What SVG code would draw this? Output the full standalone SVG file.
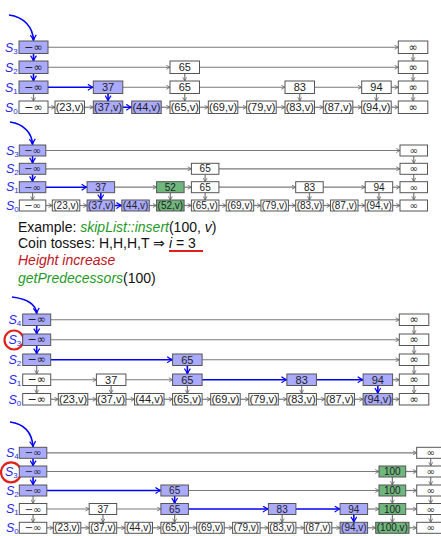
<svg xmlns="http://www.w3.org/2000/svg" width="441" height="536" viewBox="0 0 441 536">
<style>
.b{fill:#fff;stroke:#555;stroke-width:1}
.bb{fill:#aaaaff;stroke:#555;stroke-width:1}
.bg{fill:#70b77e;stroke:#555;stroke-width:1}
.t{font-family:"Liberation Sans",Arial,sans-serif;font-size:11px;text-anchor:middle;dominant-baseline:central;fill:#222}
.t2{font-family:"Liberation Sans",Arial,sans-serif;font-size:10px;text-anchor:middle;dominant-baseline:central;fill:#222}
.i{font-family:"DejaVu Sans",sans-serif}
.g{stroke:#7a7a7a;stroke-width:1.2;fill:none;marker-end:url(#ga)}
.bl{stroke:#0000ff;stroke-width:1.6;fill:none;marker-end:url(#ba)}
.lbl{font-family:"Liberation Sans",Arial,sans-serif;font-size:12.5px;font-style:italic;fill:#2a2ae6}
.sub{font-size:8px;font-style:normal}
.tx{font-family:"Liberation Sans",Arial,sans-serif;font-size:14px;fill:#111}
.gi{fill:#1f9a1f;font-style:italic}
.ri{fill:#c0141c;font-style:italic}
.circ{fill:none;stroke:#e0201a;stroke-width:2.2}
</style>
<defs>
<marker id="ga" viewBox="0 0 6 6" refX="5.5" refY="3" markerWidth="5" markerHeight="5" orient="auto" markerUnits="userSpaceOnUse"><path d="M1,0.6 L5.5,3 L1,5.4" fill="none" stroke="#6a6a6a" stroke-width="1"/></marker>
<marker id="ba" viewBox="0 0 8 8" refX="7.2" refY="4" markerWidth="7" markerHeight="7" orient="auto" markerUnits="userSpaceOnUse"><path d="M1,0.6 Q4.5,3.2 7.2,4 Q4.5,4.8 1,7.4" fill="none" stroke="#0000ff" stroke-width="1.4"/></marker>
</defs>

<!-- ================= Panel 1 ================= -->
<g id="p1-labels">
<text class="lbl" x="5" y="51.5">S<tspan class="sub" dy="2">3</tspan></text>
<text class="lbl" x="5" y="71.5">S<tspan class="sub" dy="2">2</tspan></text>
<text class="lbl" x="5" y="91.5">S<tspan class="sub" dy="2">1</tspan></text>
<text class="lbl" x="5" y="111.5">S<tspan class="sub" dy="2">0</tspan></text>
</g>
<g id="p1-connectors">
<path class="bl" d="M9,15 C24,17 33,27 33.5,40.5"/>
<path class="g" d="M48,47.25 H398.3"/>
<path class="g" d="M48,67.25 H170"/>
<path class="g" d="M199.5,67.25 H398.3"/>
<path class="bl" d="M48,87.25 H93.3"/>
<path class="g" d="M122.8,87.25 H170"/>
<path class="g" d="M199.5,87.25 H285"/>
<path class="g" d="M314.5,87.25 H361.7"/>
<path class="g" d="M391.2,87.25 H398.3"/>
<path class="g" d="M48,107.25 H55"/>
<path class="g" d="M84.5,107.25 H93.3"/>
<path class="bl" d="M122.8,107.25 H131.7"/>
<path class="g" d="M161.2,107.25 H170"/>
<path class="g" d="M199.5,107.25 H208.3"/>
<path class="g" d="M237.8,107.25 H246.7"/>
<path class="g" d="M276.2,107.25 H285"/>
<path class="g" d="M314.5,107.25 H323.3"/>
<path class="g" d="M352.8,107.25 H361.7"/>
<path class="g" d="M391.2,107.25 H398.3"/>
<path class="bl" d="M33.5,53.5 V61"/>
<path class="bl" d="M33.5,73.5 V81"/>
<path class="bl" d="M108.05,93.5 V101"/>
<path class="g" d="M33.5,93.5 V101"/>
<path class="g" d="M184.75,73.5 V81"/>
<path class="g" d="M184.75,93.5 V101"/>
<path class="g" d="M299.75,93.5 V101"/>
<path class="g" d="M376.45,93.5 V101"/>
<path class="g" d="M413.05,53.5 V61"/>
<path class="g" d="M413.05,73.5 V81"/>
<path class="g" d="M413.05,93.5 V101"/>
</g>
<g id="p1-s3-ninf"><rect class="bb" x="19" y="41" width="29" height="12.5"/><text class="t i" x="33.5" y="47.25">−∞</text></g>
<g id="p1-s3-inf"><rect class="b" x="398.3" y="41" width="29.5" height="12.5"/><text class="t i" x="413.05" y="47.25">∞</text></g>
<g id="p1-s2-ninf"><rect class="bb" x="19" y="61" width="29" height="12.5"/><text class="t i" x="33.5" y="67.25">−∞</text></g>
<g id="p1-s2-65"><rect class="b" x="170" y="61" width="29.5" height="12.5"/><text class="t" x="184.75" y="67.25">65</text></g>
<g id="p1-s2-inf"><rect class="b" x="398.3" y="61" width="29.5" height="12.5"/><text class="t i" x="413.05" y="67.25">∞</text></g>
<g id="p1-s1-ninf"><rect class="bb" x="19" y="81" width="29" height="12.5"/><text class="t i" x="33.5" y="87.25">−∞</text></g>
<g id="p1-s1-37"><rect class="bb" x="93.3" y="81" width="29.5" height="12.5"/><text class="t" x="108.05" y="87.25">37</text></g>
<g id="p1-s1-65"><rect class="b" x="170" y="81" width="29.5" height="12.5"/><text class="t" x="184.75" y="87.25">65</text></g>
<g id="p1-s1-83"><rect class="b" x="285" y="81" width="29.5" height="12.5"/><text class="t" x="299.75" y="87.25">83</text></g>
<g id="p1-s1-94"><rect class="b" x="361.7" y="81" width="29.5" height="12.5"/><text class="t" x="376.45" y="87.25">94</text></g>
<g id="p1-s1-inf"><rect class="b" x="398.3" y="81" width="29.5" height="12.5"/><text class="t i" x="413.05" y="87.25">∞</text></g>
<g id="p1-s0-ninf"><rect class="b" x="19" y="101" width="29" height="12.5"/><text class="t i" x="33.5" y="107.25">−∞</text></g>
<g id="p1-s0-23"><rect class="b" x="55" y="101" width="29.5" height="12.5"/><text class="t" x="69.75" y="107.25">(23,v)</text></g>
<g id="p1-s0-37"><rect class="bb" x="93.3" y="101" width="29.5" height="12.5"/><text class="t" x="108.05" y="107.25">(37,v)</text></g>
<g id="p1-s0-44"><rect class="bb" x="131.7" y="101" width="29.5" height="12.5"/><text class="t" x="146.45" y="107.25">(44,v)</text></g>
<g id="p1-s0-65"><rect class="b" x="170" y="101" width="29.5" height="12.5"/><text class="t" x="184.75" y="107.25">(65,v)</text></g>
<g id="p1-s0-69"><rect class="b" x="208.3" y="101" width="29.5" height="12.5"/><text class="t" x="223.05" y="107.25">(69,v)</text></g>
<g id="p1-s0-79"><rect class="b" x="246.7" y="101" width="29.5" height="12.5"/><text class="t" x="261.45" y="107.25">(79,v)</text></g>
<g id="p1-s0-83"><rect class="b" x="285" y="101" width="29.5" height="12.5"/><text class="t" x="299.75" y="107.25">(83,v)</text></g>
<g id="p1-s0-87"><rect class="b" x="323.3" y="101" width="29.5" height="12.5"/><text class="t" x="338.05" y="107.25">(87,v)</text></g>
<g id="p1-s0-94"><rect class="b" x="361.7" y="101" width="29.5" height="12.5"/><text class="t" x="376.45" y="107.25">(94,v)</text></g>
<g id="p1-s0-inf"><rect class="b" x="398.3" y="101" width="29.5" height="12.5"/><text class="t i" x="413.05" y="107.25">∞</text></g>

<!-- ================= Panel 2 ================= -->
<g id="p2-labels">
<text class="lbl" x="6" y="154.5">S<tspan class="sub" dy="2">3</tspan></text>
<text class="lbl" x="6" y="172.8">S<tspan class="sub" dy="2">2</tspan></text>
<text class="lbl" x="6" y="191.2">S<tspan class="sub" dy="2">1</tspan></text>
<text class="lbl" x="6" y="209.5">S<tspan class="sub" dy="2">0</tspan></text>
</g>
<g id="p2-connectors">
<path class="bl" d="M10,122 C24,124 32,133 32.55,144.5"/>
<path class="g" d="M45.8,150.5 H400"/>
<path class="g" d="M45.8,168.8 H191.4"/>
<path class="g" d="M218.9,168.8 H400"/>
<path class="bl" d="M45.8,187.2 H87.1"/>
<path class="g" d="M114.6,187.2 H156.6"/>
<path class="g" d="M184.1,187.2 H191.4"/>
<path class="g" d="M218.9,187.2 H295.7"/>
<path class="g" d="M323.2,187.2 H365.2"/>
<path class="g" d="M392.7,187.2 H400"/>
<path class="g" d="M45.8,205.5 H52.3"/>
<path class="g" d="M79.8,205.5 H87.1"/>
<path class="bl" d="M114.6,205.5 H121.8"/>
<path class="g" d="M149.3,205.5 H156.6"/>
<path class="g" d="M184.1,205.5 H191.4"/>
<path class="g" d="M218.9,205.5 H226.2"/>
<path class="g" d="M253.7,205.5 H260.9"/>
<path class="g" d="M288.4,205.5 H295.7"/>
<path class="g" d="M323.2,205.5 H330.5"/>
<path class="g" d="M358,205.5 H365.2"/>
<path class="g" d="M392.7,205.5 H400"/>
<path class="bl" d="M32.55,156 V163.3"/>
<path class="bl" d="M32.55,174.3 V181.7"/>
<path class="bl" d="M100.85,192.7 V200"/>
<path class="g" d="M32.55,192.7 V200"/>
<path class="g" d="M170.35,192.7 V200"/>
<path class="g" d="M205.15,174.3 V181.7"/>
<path class="g" d="M205.15,192.7 V200"/>
<path class="g" d="M309.45,192.7 V200"/>
<path class="g" d="M378.95,192.7 V200"/>
<path class="g" d="M413.75,156 V163.3"/>
<path class="g" d="M413.75,174.3 V181.7"/>
<path class="g" d="M413.75,192.7 V200"/>
</g>
<g id="p2-s3-ninf"><rect class="bb" x="19.3" y="145" width="26.5" height="11"/><text class="t2 i" x="32.55" y="150.5">−∞</text></g>
<g id="p2-s3-inf"><rect class="b" x="400" y="145" width="27.5" height="11"/><text class="t2 i" x="413.75" y="150.5">∞</text></g>
<g id="p2-s2-ninf"><rect class="bb" x="19.3" y="163.3" width="26.5" height="11"/><text class="t2 i" x="32.55" y="168.8">−∞</text></g>
<g id="p2-s2-65"><rect class="b" x="191.4" y="163.3" width="27.5" height="11"/><text class="t2" x="205.15" y="168.8">65</text></g>
<g id="p2-s2-inf"><rect class="b" x="400" y="163.3" width="27.5" height="11"/><text class="t2 i" x="413.75" y="168.8">∞</text></g>
<g id="p2-s1-ninf"><rect class="bb" x="19.3" y="181.7" width="26.5" height="11"/><text class="t2 i" x="32.55" y="187.2">−∞</text></g>
<g id="p2-s1-37"><rect class="bb" x="87.1" y="181.7" width="27.5" height="11"/><text class="t2" x="100.85" y="187.2">37</text></g>
<g id="p2-s1-52"><rect class="bg" x="156.6" y="181.7" width="27.5" height="11"/><text class="t2" x="170.35" y="187.2">52</text></g>
<g id="p2-s1-65"><rect class="b" x="191.4" y="181.7" width="27.5" height="11"/><text class="t2" x="205.15" y="187.2">65</text></g>
<g id="p2-s1-83"><rect class="b" x="295.7" y="181.7" width="27.5" height="11"/><text class="t2" x="309.45" y="187.2">83</text></g>
<g id="p2-s1-94"><rect class="b" x="365.2" y="181.7" width="27.5" height="11"/><text class="t2" x="378.95" y="187.2">94</text></g>
<g id="p2-s1-inf"><rect class="b" x="400" y="181.7" width="27.5" height="11"/><text class="t2 i" x="413.75" y="187.2">∞</text></g>
<g id="p2-s0-ninf"><rect class="b" x="19.3" y="200" width="26.5" height="11"/><text class="t2 i" x="32.55" y="205.5">−∞</text></g>
<g id="p2-s0-23"><rect class="b" x="52.3" y="200" width="27.5" height="11"/><text class="t2" x="66.05" y="205.5">(23,v)</text></g>
<g id="p2-s0-37"><rect class="bb" x="87.1" y="200" width="27.5" height="11"/><text class="t2" x="100.85" y="205.5">(37,v)</text></g>
<g id="p2-s0-44"><rect class="bb" x="121.8" y="200" width="27.5" height="11"/><text class="t2" x="135.55" y="205.5">(44,v)</text></g>
<g id="p2-s0-52"><rect class="bg" x="156.6" y="200" width="27.5" height="11"/><text class="t2" x="170.35" y="205.5">(52,v)</text></g>
<g id="p2-s0-65"><rect class="b" x="191.4" y="200" width="27.5" height="11"/><text class="t2" x="205.15" y="205.5">(65,v)</text></g>
<g id="p2-s0-69"><rect class="b" x="226.2" y="200" width="27.5" height="11"/><text class="t2" x="239.95" y="205.5">(69,v)</text></g>
<g id="p2-s0-79"><rect class="b" x="260.9" y="200" width="27.5" height="11"/><text class="t2" x="274.65" y="205.5">(79,v)</text></g>
<g id="p2-s0-83"><rect class="b" x="295.7" y="200" width="27.5" height="11"/><text class="t2" x="309.45" y="205.5">(83,v)</text></g>
<g id="p2-s0-87"><rect class="b" x="330.5" y="200" width="27.5" height="11"/><text class="t2" x="344.25" y="205.5">(87,v)</text></g>
<g id="p2-s0-94"><rect class="b" x="365.2" y="200" width="27.5" height="11"/><text class="t2" x="378.95" y="205.5">(94,v)</text></g>
<g id="p2-s0-inf"><rect class="b" x="400" y="200" width="27.5" height="11"/><text class="t2 i" x="413.75" y="205.5">∞</text></g>

<!-- ================= Text ================= -->
<g id="caption">
<text class="tx" x="18" y="231.5">Example: <tspan class="gi">skipList::insert</tspan>(100, <tspan font-style="italic">v</tspan>)</text>
<text class="tx" x="18" y="247.5">Coin tosses: H,H,H,T ⇒ <tspan font-style="italic">i</tspan> = 3</text>
<line x1="169" y1="251" x2="203" y2="251" stroke="#e0201a" stroke-width="2"/>
<text class="tx ri" x="18" y="265">Height increase</text>
<text class="tx" x="18" y="283"><tspan class="gi">getPredecessors</tspan>(100)</text>
</g>

<!-- ================= Panel 3 ================= -->
<g id="p3-labels">
<text class="lbl" x="8.5" y="324">S<tspan class="sub" dy="2">4</tspan></text>
<text class="lbl" x="8.5" y="344">S<tspan class="sub" dy="2">3</tspan></text>
<text class="lbl" x="8.5" y="364">S<tspan class="sub" dy="2">2</tspan></text>
<text class="lbl" x="8.5" y="384">S<tspan class="sub" dy="2">1</tspan></text>
<text class="lbl" x="8.5" y="403.5">S<tspan class="sub" dy="2">0</tspan></text>
<circle class="circ" cx="14" cy="340" r="9.5"/>
</g>
<g id="p3-connectors">
<path class="bl" d="M12,297 C28,299 36,305 36.7,313.5"/>
<path class="g" d="M50.7,319.75 H399.3"/>
<path class="g" d="M50.7,339.75 H399.3"/>
<path class="bl" d="M50.7,359.75 H172.6"/>
<path class="g" d="M202.1,359.75 H399.3"/>
<path class="g" d="M50.7,379.75 H96.4"/>
<path class="g" d="M125.9,379.75 H172.6"/>
<path class="bl" d="M202.1,379.75 H286.9"/>
<path class="bl" d="M316.4,379.75 H363.1"/>
<path class="g" d="M392.6,379.75 H399.3"/>
<path class="g" d="M50.7,399.25 H58.3"/>
<path class="g" d="M87.8,399.25 H96.4"/>
<path class="g" d="M125.9,399.25 H134.5"/>
<path class="g" d="M164,399.25 H172.6"/>
<path class="g" d="M202.1,399.25 H210.7"/>
<path class="g" d="M240.2,399.25 H248.8"/>
<path class="g" d="M278.3,399.25 H286.9"/>
<path class="g" d="M316.4,399.25 H325"/>
<path class="g" d="M354.5,399.25 H363.1"/>
<path class="g" d="M392.6,399.25 H399.3"/>
<path class="bl" d="M36.7,325.5 V334"/>
<path class="bl" d="M36.7,345.5 V354"/>
<path class="bl" d="M187.35,365.5 V374"/>
<path class="bl" d="M377.85,385.5 V393.5"/>
<path class="g" d="M36.7,365.5 V374"/>
<path class="g" d="M36.7,385.5 V393.5"/>
<path class="g" d="M111.15,385.5 V393.5"/>
<path class="g" d="M187.35,385.5 V393.5"/>
<path class="g" d="M301.65,385.5 V393.5"/>
<path class="g" d="M414.05,325.5 V334"/>
<path class="g" d="M414.05,345.5 V354"/>
<path class="g" d="M414.05,365.5 V374"/>
<path class="g" d="M414.05,385.5 V393.5"/>
</g>
<g id="p3-s4-ninf"><rect class="bb" x="22.7" y="314" width="28" height="11.5"/><text class="t i" x="36.7" y="319.75">−∞</text></g>
<g id="p3-s4-inf"><rect class="b" x="399.3" y="314" width="29.5" height="11.5"/><text class="t i" x="414.05" y="319.75">∞</text></g>
<g id="p3-s3-ninf"><rect class="bb" x="22.7" y="334" width="28" height="11.5"/><text class="t i" x="36.7" y="339.75">−∞</text></g>
<g id="p3-s3-inf"><rect class="b" x="399.3" y="334" width="29.5" height="11.5"/><text class="t i" x="414.05" y="339.75">∞</text></g>
<g id="p3-s2-ninf"><rect class="bb" x="22.7" y="354" width="28" height="11.5"/><text class="t i" x="36.7" y="359.75">−∞</text></g>
<g id="p3-s2-65"><rect class="bb" x="172.6" y="354" width="29.5" height="11.5"/><text class="t" x="187.35" y="359.75">65</text></g>
<g id="p3-s2-inf"><rect class="b" x="399.3" y="354" width="29.5" height="11.5"/><text class="t i" x="414.05" y="359.75">∞</text></g>
<g id="p3-s1-ninf"><rect class="b" x="22.7" y="374" width="28" height="11.5"/><text class="t i" x="36.7" y="379.75">−∞</text></g>
<g id="p3-s1-37"><rect class="b" x="96.4" y="374" width="29.5" height="11.5"/><text class="t" x="111.15" y="379.75">37</text></g>
<g id="p3-s1-65"><rect class="bb" x="172.6" y="374" width="29.5" height="11.5"/><text class="t" x="187.35" y="379.75">65</text></g>
<g id="p3-s1-83"><rect class="bb" x="286.9" y="374" width="29.5" height="11.5"/><text class="t" x="301.65" y="379.75">83</text></g>
<g id="p3-s1-94"><rect class="bb" x="363.1" y="374" width="29.5" height="11.5"/><text class="t" x="377.85" y="379.75">94</text></g>
<g id="p3-s1-inf"><rect class="b" x="399.3" y="374" width="29.5" height="11.5"/><text class="t i" x="414.05" y="379.75">∞</text></g>
<g id="p3-s0-ninf"><rect class="b" x="22.7" y="393.5" width="28" height="11.5"/><text class="t i" x="36.7" y="399.25">−∞</text></g>
<g id="p3-s0-23"><rect class="b" x="58.3" y="393.5" width="29.5" height="11.5"/><text class="t" x="73.05" y="399.25">(23,v)</text></g>
<g id="p3-s0-37"><rect class="b" x="96.4" y="393.5" width="29.5" height="11.5"/><text class="t" x="111.15" y="399.25">(37,v)</text></g>
<g id="p3-s0-44"><rect class="b" x="134.5" y="393.5" width="29.5" height="11.5"/><text class="t" x="149.25" y="399.25">(44,v)</text></g>
<g id="p3-s0-65"><rect class="b" x="172.6" y="393.5" width="29.5" height="11.5"/><text class="t" x="187.35" y="399.25">(65,v)</text></g>
<g id="p3-s0-69"><rect class="b" x="210.7" y="393.5" width="29.5" height="11.5"/><text class="t" x="225.45" y="399.25">(69,v)</text></g>
<g id="p3-s0-79"><rect class="b" x="248.8" y="393.5" width="29.5" height="11.5"/><text class="t" x="263.55" y="399.25">(79,v)</text></g>
<g id="p3-s0-83"><rect class="b" x="286.9" y="393.5" width="29.5" height="11.5"/><text class="t" x="301.65" y="399.25">(83,v)</text></g>
<g id="p3-s0-87"><rect class="b" x="325" y="393.5" width="29.5" height="11.5"/><text class="t" x="339.75" y="399.25">(87,v)</text></g>
<g id="p3-s0-94"><rect class="bb" x="363.1" y="393.5" width="29.5" height="11.5"/><text class="t" x="377.85" y="399.25">(94,v)</text></g>
<g id="p3-s0-inf"><rect class="b" x="399.3" y="393.5" width="29.5" height="11.5"/><text class="t i" x="414.05" y="399.25">∞</text></g>

<!-- ================= Panel 4 ================= -->
<g id="p4-labels">
<text class="lbl" x="6" y="457">S<tspan class="sub" dy="2">4</tspan></text>
<text class="lbl" x="5" y="475.8">S<tspan class="sub" dy="2">3</tspan></text>
<text class="lbl" x="6" y="494.8">S<tspan class="sub" dy="2">2</tspan></text>
<text class="lbl" x="6" y="513.3">S<tspan class="sub" dy="2">1</tspan></text>
<text class="lbl" x="6" y="531.5">S<tspan class="sub" dy="2">0</tspan></text>
<circle class="circ" cx="11" cy="472.3" r="10"/>
</g>
<g id="p4-connectors">
<path class="bl" d="M10,422 C25,424 32,433 33.05,446.8"/>
<path class="g" d="M46.8,452.8 H416.7"/>
<path class="g" d="M46.8,471.5 H379"/>
<path class="g" d="M405.7,471.5 H416.7"/>
<path class="bl" d="M46.8,490.5 H160.9"/>
<path class="g" d="M188.4,490.5 H379"/>
<path class="g" d="M405.7,490.5 H416.7"/>
<path class="g" d="M46.8,509 H89.2"/>
<path class="g" d="M116.7,509 H160.9"/>
<path class="bl" d="M188.4,509 H268.4"/>
<path class="bl" d="M295.9,509 H340.1"/>
<path class="g" d="M367.6,509 H379"/>
<path class="g" d="M405.7,509 H416.7"/>
<path class="g" d="M46.8,527.8 H53.3"/>
<path class="g" d="M80.8,527.8 H89.2"/>
<path class="g" d="M116.7,527.8 H125"/>
<path class="g" d="M152.5,527.8 H160.9"/>
<path class="g" d="M188.4,527.8 H196.7"/>
<path class="g" d="M224.2,527.8 H232.6"/>
<path class="g" d="M260.1,527.8 H268.4"/>
<path class="g" d="M295.9,527.8 H304.3"/>
<path class="g" d="M331.8,527.8 H340.1"/>
<path class="g" d="M367.6,527.8 H375.7"/>
<path class="g" d="M409,527.8 H416.7"/>
<path class="bl" d="M33.05,458.3 V466"/>
<path class="bl" d="M33.05,477 V485"/>
<path class="bl" d="M174.65,496 V503.5"/>
<path class="bl" d="M353.85,514.5 V522.3"/>
<path class="g" d="M33.05,496 V503.5"/>
<path class="g" d="M33.05,514.5 V522.3"/>
<path class="g" d="M102.95,514.5 V522.3"/>
<path class="g" d="M174.65,514.5 V522.3"/>
<path class="g" d="M282.15,514.5 V522.3"/>
<path class="g" d="M392.35,477 V485"/>
<path class="g" d="M392.35,496 V503.5"/>
<path class="g" d="M392.35,514.5 V522.3"/>
<path class="g" d="M430.7,458.3 V466"/>
<path class="g" d="M430.7,477 V485"/>
<path class="g" d="M430.7,496 V503.5"/>
<path class="g" d="M430.7,514.5 V522.3"/>
</g>
<g id="p4-s4-ninf"><rect class="bb" x="19.3" y="447.3" width="27.5" height="11"/><text class="t2 i" x="33.05" y="452.8">−∞</text></g>
<g id="p4-s4-inf"><rect class="b" x="416.7" y="447.3" width="28" height="11"/><text class="t2 i" x="430.7" y="452.8">∞</text></g>
<g id="p4-s3-ninf"><rect class="bb" x="19.3" y="466" width="27.5" height="11"/><text class="t2 i" x="33.05" y="471.5">−∞</text></g>
<g id="p4-s3-100"><rect class="bg" x="379" y="466" width="26.7" height="11"/><text class="t2" x="392.35" y="471.5">100</text></g>
<g id="p4-s3-inf"><rect class="b" x="416.7" y="466" width="28" height="11"/><text class="t2 i" x="430.7" y="471.5">∞</text></g>
<g id="p4-s2-ninf"><rect class="bb" x="19.3" y="485" width="27.5" height="11"/><text class="t2 i" x="33.05" y="490.5">−∞</text></g>
<g id="p4-s2-65"><rect class="bb" x="160.9" y="485" width="27.5" height="11"/><text class="t2" x="174.65" y="490.5">65</text></g>
<g id="p4-s2-100"><rect class="bg" x="379" y="485" width="26.7" height="11"/><text class="t2" x="392.35" y="490.5">100</text></g>
<g id="p4-s2-inf"><rect class="b" x="416.7" y="485" width="28" height="11"/><text class="t2 i" x="430.7" y="490.5">∞</text></g>
<g id="p4-s1-ninf"><rect class="b" x="19.3" y="503.5" width="27.5" height="11"/><text class="t2 i" x="33.05" y="509">−∞</text></g>
<g id="p4-s1-37"><rect class="b" x="89.2" y="503.5" width="27.5" height="11"/><text class="t2" x="102.95" y="509">37</text></g>
<g id="p4-s1-65"><rect class="bb" x="160.9" y="503.5" width="27.5" height="11"/><text class="t2" x="174.65" y="509">65</text></g>
<g id="p4-s1-83"><rect class="bb" x="268.4" y="503.5" width="27.5" height="11"/><text class="t2" x="282.15" y="509">83</text></g>
<g id="p4-s1-94"><rect class="bb" x="340.1" y="503.5" width="27.5" height="11"/><text class="t2" x="353.85" y="509">94</text></g>
<g id="p4-s1-100"><rect class="bg" x="379" y="503.5" width="26.7" height="11"/><text class="t2" x="392.35" y="509">100</text></g>
<g id="p4-s1-inf"><rect class="b" x="416.7" y="503.5" width="28" height="11"/><text class="t2 i" x="430.7" y="509">∞</text></g>
<g id="p4-s0-ninf"><rect class="b" x="19.3" y="522.3" width="27.5" height="11"/><text class="t2 i" x="33.05" y="527.8">−∞</text></g>
<g id="p4-s0-23"><rect class="b" x="53.3" y="522.3" width="27.5" height="11"/><text class="t2" x="67.05" y="527.8">(23,v)</text></g>
<g id="p4-s0-37"><rect class="b" x="89.2" y="522.3" width="27.5" height="11"/><text class="t2" x="102.95" y="527.8">(37,v)</text></g>
<g id="p4-s0-44"><rect class="b" x="125" y="522.3" width="27.5" height="11"/><text class="t2" x="138.75" y="527.8">(44,v)</text></g>
<g id="p4-s0-65"><rect class="b" x="160.9" y="522.3" width="27.5" height="11"/><text class="t2" x="174.65" y="527.8">(65,v)</text></g>
<g id="p4-s0-69"><rect class="b" x="196.7" y="522.3" width="27.5" height="11"/><text class="t2" x="210.45" y="527.8">(69,v)</text></g>
<g id="p4-s0-79"><rect class="b" x="232.6" y="522.3" width="27.5" height="11"/><text class="t2" x="246.35" y="527.8">(79,v)</text></g>
<g id="p4-s0-83"><rect class="b" x="268.4" y="522.3" width="27.5" height="11"/><text class="t2" x="282.15" y="527.8">(83,v)</text></g>
<g id="p4-s0-87"><rect class="b" x="304.3" y="522.3" width="27.5" height="11"/><text class="t2" x="318.05" y="527.8">(87,v)</text></g>
<g id="p4-s0-94"><rect class="bb" x="340.1" y="522.3" width="27.5" height="11"/><text class="t2" x="353.85" y="527.8">(94,v)</text></g>
<g id="p4-s0-100"><rect class="bg" x="375.7" y="522.3" width="33.3" height="11"/><text class="t2" x="392.35" y="527.8">(100,v)</text></g>
<g id="p4-s0-inf"><rect class="b" x="416.7" y="522.3" width="28" height="11"/><text class="t2 i" x="430.7" y="527.8">∞</text></g>
</svg>
